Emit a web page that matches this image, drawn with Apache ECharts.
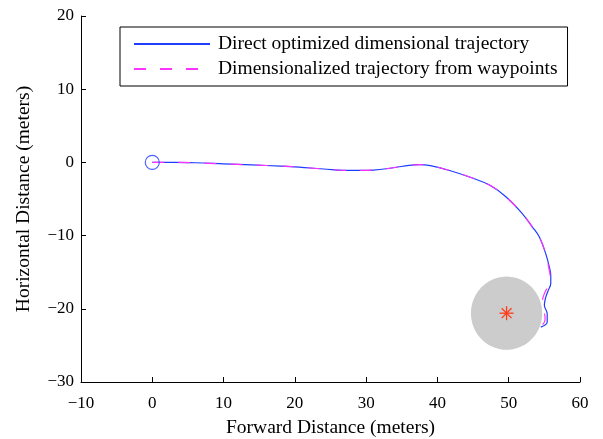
<!DOCTYPE html>
<html>
<head>
<meta charset="utf-8">
<script src="https://cdn.jsdelivr.net/npm/echarts@6/dist/echarts.min.js"></script>
<style>
  html, body { margin: 0; padding: 0; background: #fff; }
  #chart { width: 603px; height: 439px; }
</style>
</head>
<body>
<div id="chart"></div>
<script>
// trajectory (forward m, horizontal m)
var directPath = [
  [0, 0], [3, 0], [6, -0.05], [10, -0.2], [14, -0.35], [18, -0.5], [20.6, -0.64],
  [24, -0.9], [28, -1.1], [31, -1.05], [34, -0.7], [36, -0.4], [37.5, -0.3],
  [39, -0.45], [41.7, -1.1], [44.5, -2.0], [47.3, -3.1], [49.6, -4.7], [51.9, -7.0],
  [53.3, -8.8], [54.3, -10.2], [55.2, -12.5], [55.7, -14.3], [55.9, -15.5],
  [55.9, -16.5], [55.5, -17.6], [55.2, -18.4], [55.0, -19.5], [55.4, -20.7],
  [55.4, -21.8], [54.5, -22.5]
];
var waypointPath = [
  [0, 0], [3, 0], [6, -0.05], [10, -0.2], [14, -0.35], [18, -0.5], [20.6, -0.64],
  [24, -0.9], [28, -1.1], [31, -1.05], [34, -0.7], [36, -0.4], [37.5, -0.3],
  [39, -0.45], [41.7, -1.1], [44.5, -2.0], [47.3, -3.1], [49.6, -4.7], [51.9, -7.0],
  [53.3, -8.8], [54.3, -10.2], [55.2, -12.5], [55.6, -14.3], [55.8, -15.5],
  [55.8, -16.5], [55.2, -17.5], [54.8, -18.5], [54.7, -19.5], [55.0, -20.5],
  [55.1, -21.5], [54.2, -22.7]
];
var startPoint = [[0, 0]];
var goal = [49.7, -20.6];
var goalRadius = 5;
var xTicks = { min: -10, max: 60, interval: 10 };
var yTicks = { min: -30, max: 20, interval: 10 };

var serif = 'Liberation Serif';
function fmt(v) { return v < 0 ? '\u2212' + (-v) : String(v); }

var chart = echarts.init(document.getElementById('chart'));
chart.setOption({
  animation: false,
  grid: { left: 81, right: 23, top: 16, bottom: 57, outerBoundsMode: 'none', containLabel: false },
  legend: {
    orient: 'vertical',
    left: 120, top: 27,
    padding: [7, 10, 7, 13],
    borderColor: '#000', borderWidth: 1,
    backgroundColor: '#fff',
    itemWidth: 76, itemHeight: 14, itemGap: 5,
    itemStyle: { opacity: 0 },
    textStyle: { fontFamily: serif, fontSize: 19.5, color: '#000', padding: [0, 0, 0, 3] },
    data: ['Direct optimized dimensional trajectory', 'Dimensionalized trajectory from waypoints']
  },
  xAxis: {
    type: 'value', min: xTicks.min, max: xTicks.max, interval: xTicks.interval,
    name: 'Forward Distance (meters)', nameLocation: 'middle', nameGap: 36,
    nameTextStyle: { fontFamily: serif, fontSize: 19.5, color: '#000' },
    axisLine: { onZero: false, lineStyle: { color: '#000', width: 1 } },
    axisTick: { inside: true, length: 5, lineStyle: { color: '#000' } },
    axisLabel: { fontFamily: serif, fontSize: 17, color: '#000', margin: 13, formatter: fmt },
    splitLine: { show: false }
  },
  yAxis: {
    type: 'value', min: yTicks.min, max: yTicks.max, interval: yTicks.interval,
    name: 'Horizontal Distance (meters)', nameLocation: 'middle', nameGap: 47,
    nameTextStyle: { fontFamily: serif, fontSize: 19.5, color: '#000' },
    axisLine: { onZero: false, lineStyle: { color: '#000', width: 1 } },
    axisTick: { inside: true, length: 5, lineStyle: { color: '#000' } },
    axisLabel: { fontFamily: serif, fontSize: 17, color: '#000', margin: 7, formatter: fmt },
    splitLine: { show: false }
  },
  series: [
    {
      type: 'custom', name: 'goal', silent: true, z: 1,
      data: [goal],
      renderItem: function (params, api) {
        var pts = [];
        for (var i = 0; i < 72; i++) {
          var a = i / 72 * Math.PI * 2;
          pts.push(api.coord([goal[0] + goalRadius * Math.cos(a), goal[1] + goalRadius * Math.sin(a)]));
        }
        var c = api.coord(goal);
        var r = 7, lines = [];
        for (var k = 0; k < 4; k++) {
          var t = k * Math.PI / 4;
          lines.push({
            type: 'line',
            shape: { x1: c[0] - r * Math.cos(t), y1: c[1] - r * Math.sin(t), x2: c[0] + r * Math.cos(t), y2: c[1] + r * Math.sin(t) },
            style: { stroke: '#ff3a1a', lineWidth: 1.3 }
          });
        }
        return {
          type: 'group',
          children: [{ type: 'polygon', shape: { points: pts }, style: { fill: '#cccccc' } }].concat(lines)
        };
      }
    },
    {
      type: 'line', name: 'Direct optimized dimensional trajectory', z: 3,
      data: directPath, showSymbol: false, symbol: 'none', smooth: 0.4,
      lineStyle: { color: '#1f3cff', width: 1.2 },
      itemStyle: { color: '#1f3cff' }
    },
    {
      type: 'line', name: 'Dimensionalized trajectory from waypoints', z: 4,
      data: waypointPath, showSymbol: false, symbol: 'none', smooth: 0.4,
      lineStyle: { color: '#ff33ff', width: 1.2, type: [12, 14] },
      itemStyle: { color: '#ff33ff' }
    },
    {
      type: 'scatter', name: 'start', z: 5,
      data: startPoint, symbol: 'circle', symbolSize: 14,
      itemStyle: { color: 'transparent', borderColor: '#1f3cff', borderWidth: 1.2 }
    }
  ]
});
</script>
</body>
</html>
